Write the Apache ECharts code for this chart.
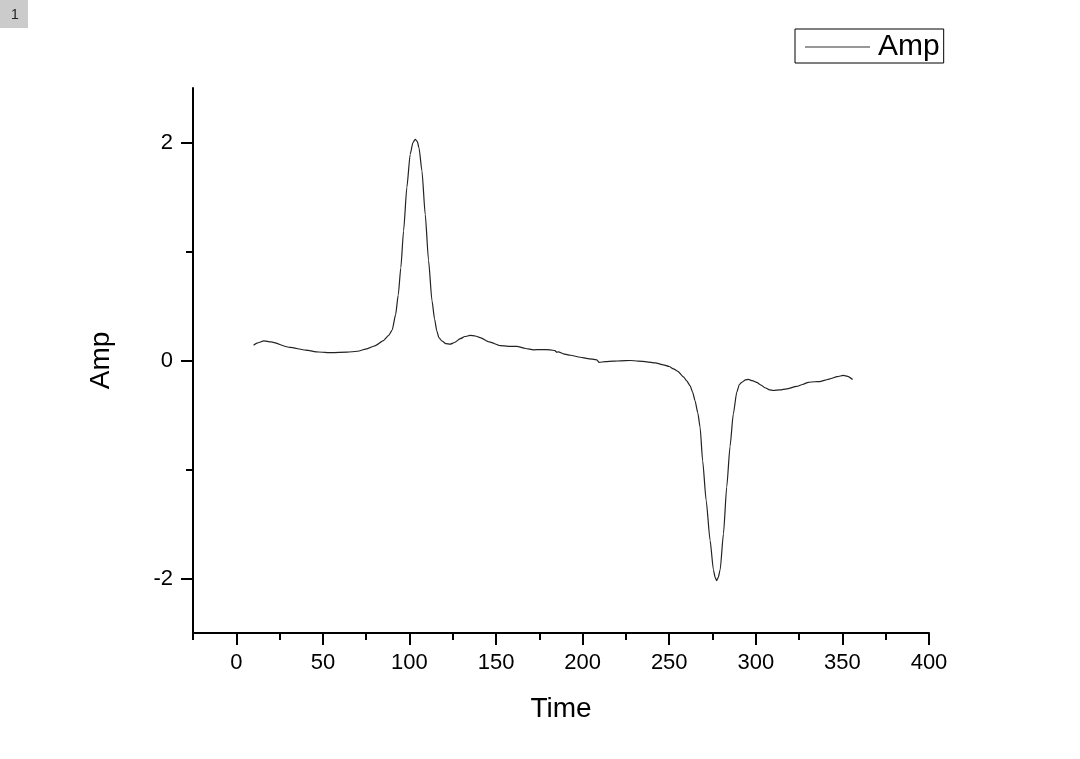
<!DOCTYPE html>
<html>
<head>
<meta charset="utf-8">
<script src="https://cdn.jsdelivr.net/npm/echarts@6/dist/echarts.min.js"></script>
<style>
html,body{margin:0;padding:0;background:#fff;}
#chart{width:1080px;height:759px;}
</style>
</head>
<body>
<div id="chart"></div>
<script>
// Data
const timeValues = [10,12,16,20,31,40,47.5,55,64,70,75.4,80,85,88,90,92,93.5,95,96.6,98.5,100.4,102,103.3,104.5,105.5,107.2,109.1,111,113,114.5,115.8,117,118.7,121,123.5,126,129.3,132,135,138,140.8,146,152.4,157,162,167,171.6,176,181.2,184,185.1,186,188.9,193,198.6,203,208.2,209.5,213,217.8,222,227.4,232,237,242,246.6,250,252.4,255,258.2,260,262,263.5,264.9,266.5,267.8,269.3,271.3,273.6,275.5,276.5,277.4,278.3,279.4,281.3,283.2,285.1,287,289,290.5,291.9,294,295.7,298,300.5,303,305.3,308,310.1,314,317.8,323.6,327,330.3,334,337,340,342.8,347,350.5,353,355.9];
const ampValues = [0.14,0.16,0.18,0.17,0.12,0.095,0.078,0.072,0.076,0.085,0.107,0.135,0.183,0.23,0.28,0.42,0.6,0.85,1.19,1.59,1.89,2.0,2.03,2.01,1.95,1.74,1.34,0.92,0.55,0.38,0.27,0.21,0.18,0.155,0.15,0.165,0.2,0.22,0.23,0.225,0.21,0.17,0.137,0.13,0.13,0.11,0.098,0.1,0.098,0.09,0.076,0.08,0.061,0.048,0.03,0.018,0.006,-0.018,-0.01,-0.006,-0.003,0,-0.005,-0.012,-0.022,-0.04,-0.055,-0.076,-0.1,-0.15,-0.185,-0.23,-0.29,-0.37,-0.48,-0.61,-0.92,-1.28,-1.65,-1.92,-1.99,-2.02,-1.99,-1.92,-1.59,-1.16,-0.79,-0.49,-0.29,-0.22,-0.2,-0.178,-0.174,-0.185,-0.2,-0.225,-0.25,-0.27,-0.275,-0.27,-0.26,-0.238,-0.22,-0.2,-0.195,-0.193,-0.18,-0.168,-0.148,-0.137,-0.145,-0.174];
const xMajorTicks = [0,50,100,150,200,250,300,350,400];
const xMinorTicks = [-25,25,75,125,175,225,275,325,375];
const yMajorTicks = [-2,0,2];
const yMinorTicks = [-1,1];
const seriesName = 'Amp';

const FONT = '"Liberation Sans", Arial, sans-serif';
const chart = echarts.init(document.getElementById('chart'));
const lineData = timeValues.map((t, i) => [t, ampValues[i]]);

const axisLineStyle = { color: '#000', width: 2 };
const hiddenLabel = { show: false };

const option = {
  animation: false,
  backgroundColor: '#fff',
  grid: { left: 193, right: 151, top: 88, bottom: 126, containLabel: false, outerBoundsMode: 'none' },
  legend: {
    left: 795, top: 29,
    padding: [3, 4, 1, 10],
    borderColor: '#000', borderWidth: 1,
    itemWidth: 65, itemHeight: 1,
    itemGap: 8,
    itemStyle: { color: '#333' },
    textStyle: { fontFamily: FONT, fontSize: 30, color: '#000', padding: [0, 0, 0, 3] },
    data: [{ name: seriesName, icon: 'rect' }]
  },
  graphic: [
    { type: 'rect', left: 0, top: 0, shape: { width: 28, height: 28 }, style: { fill: '#cbcbcb' } },
    { type: 'text', left: 11, top: 8, style: { text: '1', fontFamily: FONT, fontSize: 14, fill: '#222' } }
  ],
  xAxis: [
    {
      type: 'value', min: -25, max: 400, position: 'bottom',
      name: 'Time', nameLocation: 'middle', nameGap: 62,
      nameTextStyle: { fontFamily: FONT, fontSize: 28, color: '#000' },
      splitLine: { show: false },
      axisLine: { show: true, onZero: false, lineStyle: axisLineStyle },
      axisTick: { show: true, inside: false, length: 12, customValues: xMajorTicks, lineStyle: axisLineStyle },
      axisLabel: { show: true, margin: 19, customValues: xMajorTicks, fontFamily: FONT, fontSize: 22, color: '#000' }
    },
    {
      type: 'value', min: -25, max: 400, position: 'bottom',
      splitLine: { show: false },
      axisLine: { show: false, onZero: false },
      axisTick: { show: true, inside: false, length: 7, customValues: xMinorTicks, lineStyle: axisLineStyle },
      axisLabel: hiddenLabel
    }
  ],
  yAxis: [
    {
      type: 'value', min: -2.5, max: 2.5, position: 'left',
      name: 'Amp', nameLocation: 'middle', nameGap: 78, nameRotate: 90,
      nameTextStyle: { fontFamily: FONT, fontSize: 28, color: '#000' },
      splitLine: { show: false },
      axisLine: { show: true, onZero: false, lineStyle: axisLineStyle },
      axisTick: { show: true, inside: false, length: 12, customValues: yMajorTicks, lineStyle: axisLineStyle },
      axisLabel: { show: true, margin: 20, customValues: yMajorTicks, fontFamily: FONT, fontSize: 22, color: '#000' }
    },
    {
      type: 'value', min: -2.5, max: 2.5, position: 'left',
      splitLine: { show: false },
      axisLine: { show: false, onZero: false },
      axisTick: { show: true, inside: false, length: 7, customValues: yMinorTicks, lineStyle: axisLineStyle },
      axisLabel: hiddenLabel
    }
  ],
  series: [{
    name: seriesName,
    type: 'line',
    xAxisIndex: 0, yAxisIndex: 0,
    data: lineData,
    showSymbol: false,
    symbol: 'none',
    smooth: 0.2,
    smoothMonotone: 'x',
    lineStyle: { color: '#222', width: 1.2 },
    itemStyle: { color: '#222' }
  }]
};
chart.setOption(option);
</script>
</body>
</html>
